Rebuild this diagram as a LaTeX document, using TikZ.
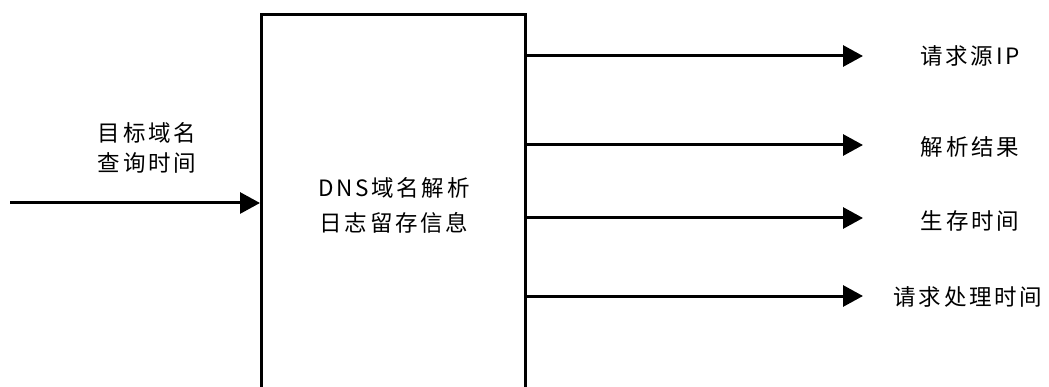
\documentclass[tikz,border=0pt]{standalone}
\usepackage{fontspec}
\setmainfont{Noto Sans CJK SC}[LetterSpace=12]
\usetikzlibrary{arrows.meta}
\begin{document}
\begin{tikzpicture}[x=1pt,y=-1pt,
  conn/.style={line width=3pt, -{Triangle[length=20pt,width=21pt]}},
  lbl/.style={font=\fontsize{22.5}{30}\selectfont, inner sep=0pt, align=center}]
\useasboundingbox (0,0) rectangle (1049,387);
\begin{scope}
\clip (0,0) rectangle (1049,387);
\node[draw, line width=3pt, minimum width=264pt, minimum height=420pt, anchor=north west, inner sep=0pt] (box) at (260,13) {};
\end{scope}
\node[lbl, font=\fontsize{22.5}{35}\selectfont] (boxtext) at (394,205) {DNS域名解析\\日志留存信息};
\node[lbl] (inlbl) at (147,148) {目标域名\\查询时间};
\coordinate (in) at (10,203);
\draw[conn] (in) -- (in -| box.west);
\coordinate (o1) at (863,56);
\coordinate (o2) at (863,145);
\coordinate (o3) at (863,218);
\coordinate (o4) at (863,296);
\draw[conn] (o1 -| box.east) -- (o1);
\draw[conn] (o2 -| box.east) -- (o2);
\draw[conn] (o3 -| box.east) -- (o3);
\draw[conn] (o4 -| box.east) -- (o4);
\node[lbl] (l1) at (970,56) {请求源IP};
\node[lbl] (l2) at (970,147) {解析结果};
\node[lbl] (l3) at (970,221) {生存时间};
\node[lbl] (l4) at (968,297) {请求处理时间};
\end{tikzpicture}
\end{document}
